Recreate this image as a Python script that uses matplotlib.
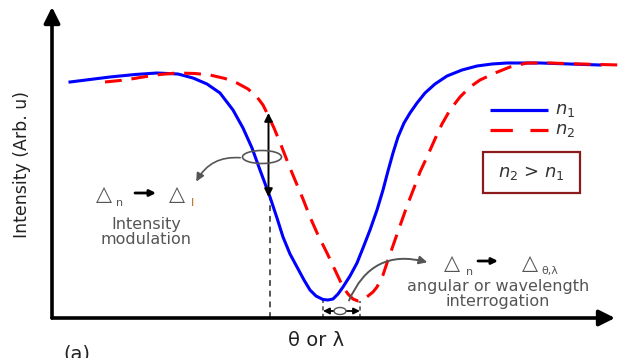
import matplotlib
matplotlib.use("Agg")
import matplotlib.pyplot as plt
from matplotlib.patches import Ellipse, Rectangle, FancyArrowPatch

# reflectance curves for the two refractive indices (both axes in arb. units)
theta_n1 = [18, 38, 58, 83, 105, 126, 141, 155, 168, 181, 191, 200, 208, 218, 225, 231,
            238, 245, 252, 258, 264, 271, 276, 281, 286, 291, 298, 305, 311, 318, 325,
            331, 336, 341, 346, 352, 358, 365, 373, 383, 395, 410, 425, 440, 455, 488,
            518, 548]
intensity_n1 = [236, 238.5, 241, 243.5, 245, 244, 240, 234, 225, 208, 190, 170, 148, 121,
                100, 81, 64, 51, 38, 28, 22, 18.5, 18, 19, 24, 31, 42, 55, 70, 88, 108,
                128, 147, 165, 181, 195, 205, 215, 225, 234, 242, 248, 252, 254, 255, 255,
                254, 253]

theta_n2 = [53, 73, 91, 108, 125, 143, 158, 173, 185, 196, 205, 211, 215, 222, 229, 236,
            243, 251, 258, 266, 275, 283, 291, 296, 301, 306, 311, 316, 321, 325, 331,
            336, 343, 349, 355, 362, 368, 375, 383, 390, 398, 408, 418, 428, 443, 458,
            475, 498, 528, 568]
intensity_n2 = [236, 238, 241, 243.5, 245, 244.5, 243, 239.5, 235, 229, 221, 213, 205,
                190, 173, 155, 138, 119, 101, 83, 65, 48, 31, 24, 19, 17, 18, 22, 26, 31,
                43, 58, 78, 95, 112, 130, 146, 161, 179, 194, 208, 221, 231, 238, 245,
                251, 255, 255, 254, 253]

# working point for intensity modulation and the two resonance minima
theta_work = 218
theta_min_n1 = 271
theta_min_n2 = 308

GRAY = "#555555"
TXT = "#222222"

fig = plt.figure(figsize=(6.25, 3.58), dpi=100)
ax = fig.add_axes([52 / 625, 40 / 358, 573 / 625, 318 / 358])
ax.set_xlim(0, 573)
ax.set_ylim(0, 318)
ax.axis("off")

# axes with arrow heads
axis_arrow = dict(arrowstyle="-|>", lw=2.6, color="black", mutation_scale=24,
                  shrinkA=0, shrinkB=0)
ax.annotate("", xy=(563, 0), xytext=(0, 0), arrowprops=axis_arrow)
ax.annotate("", xy=(0, 311), xytext=(0, 0), arrowprops=axis_arrow)

ax.plot(theta_n1, intensity_n1, color="#0000ff", lw=2.2, solid_joinstyle="round",
        clip_on=False, zorder=3)
ax.plot(theta_n2, intensity_n2, color="#ff0000", lw=2.2, dashes=(5.5, 3.2),
        clip_on=False, zorder=3)

# intensity modulation marker
i_n1 = intensity_n1[theta_n1.index(theta_work)]
i_n2 = 205
ax.plot([theta_work, theta_work], [0, i_n1], color=GRAY, lw=1.4, dashes=(3, 2.5), zorder=2)
ax.annotate("", xy=(theta_work - 1.5, i_n2), xytext=(theta_work - 1.5, i_n1),
            arrowprops=dict(arrowstyle="<|-|>", lw=1.4, color="black",
                            mutation_scale=12, shrinkA=0, shrinkB=0), zorder=4)
ax.add_patch(Ellipse((210, 161), 39, 13, fill=False, ec=GRAY, lw=1.2, zorder=4))
ax.add_patch(FancyArrowPatch((191, 160), (143, 134),
                             connectionstyle="arc3,rad=0.35", arrowstyle="-|>",
                             mutation_scale=12, color=GRAY, lw=1.2))

small_arrow = dict(arrowstyle="-|>", lw=2, color="black", mutation_scale=9,
                   shrinkA=0, shrinkB=0)
ax.text(52, 124, "△", fontsize=15, color=GRAY, ha="center", va="center")
ax.text(68, 115, "n", fontsize=8, color=GRAY, ha="center", va="center")
ax.annotate("", xy=(104, 125), xytext=(83, 125), arrowprops=small_arrow)
ax.text(125, 124, "△", fontsize=15, color=GRAY, ha="center", va="center")
ax.text(140, 115, "I", fontsize=8, color="#b5651d", ha="center", va="center")
ax.text(94, 86, "Intensity\nmodulation", fontsize=11.5, color=GRAY,
        ha="center", va="center", linespacing=1.05)

# angular / wavelength shift between the minima
for t_min, i_min in [(theta_min_n1, 18), (theta_min_n2, 17)]:
    ax.plot([t_min, t_min], [0, i_min], color=GRAY, lw=1.2, dashes=(2.5, 2), zorder=2)
ax.annotate("", xy=(theta_min_n1, 7), xytext=(theta_min_n2, 7),
            arrowprops=dict(arrowstyle="<|-|>", lw=1.3, color="black",
                            mutation_scale=9, shrinkA=0, shrinkB=0), zorder=4)
ax.add_patch(Ellipse((288, 7), 12, 7, fill=True, fc="white", ec=GRAY, lw=1, zorder=5))
ax.add_patch(FancyArrowPatch((296, 15), (378, 55),
                             connectionstyle="arc3,rad=-0.45", arrowstyle="-|>",
                             mutation_scale=12, color=GRAY, lw=1.4, zorder=5))

ax.text(400, 55, "△", fontsize=15, color=GRAY, ha="center", va="center")
ax.text(418, 46, "n", fontsize=8, color=GRAY, ha="center", va="center")
ax.annotate("", xy=(446, 57), xytext=(426, 57), arrowprops=small_arrow)
ax.text(478, 55, "△", fontsize=15, color=GRAY, ha="center", va="center")
ax.text(498, 47, "θ,λ", fontsize=8, color=GRAY, ha="center", va="center")
ax.text(446, 24, "angular or wavelength\ninterrogation", fontsize=11.5,
        color=GRAY, ha="center", va="center", linespacing=1.0)

# hand-drawn legend and condition box
ax.plot([438, 496], [208, 208], color="#0000ff", lw=2.3, solid_capstyle="butt")
ax.plot([438, 496], [188, 188], color="#ff0000", lw=2.3, dashes=(7, 5.5),
        solid_capstyle="butt")
ax.text(503, 208, "$n_1$", fontsize=13, color="#333333", va="center")
ax.text(503, 188, "$n_2$", fontsize=13, color="#333333", va="center")
ax.add_patch(Rectangle((431, 125), 97, 41, fill=False, ec="#8b1a1a", lw=1.6))
ax.text(479, 145, "$n_2$ > $n_1$", fontsize=13, color="#333333",
        ha="center", va="center")

fig.text(22 / 625, 1 - 165 / 358, "Intensity (Arb. u)", rotation=90, fontsize=12.5,
         ha="center", va="center", color=TXT)
fig.text(316 / 625, 1 - 340 / 358, "θ or λ", fontsize=14, ha="center", va="center",
         color=TXT)
fig.text(77 / 625, 1 - 344 / 358, "(a)", fontsize=14, ha="center", va="top", color=TXT)

fig.savefig("out.png", dpi=100)
